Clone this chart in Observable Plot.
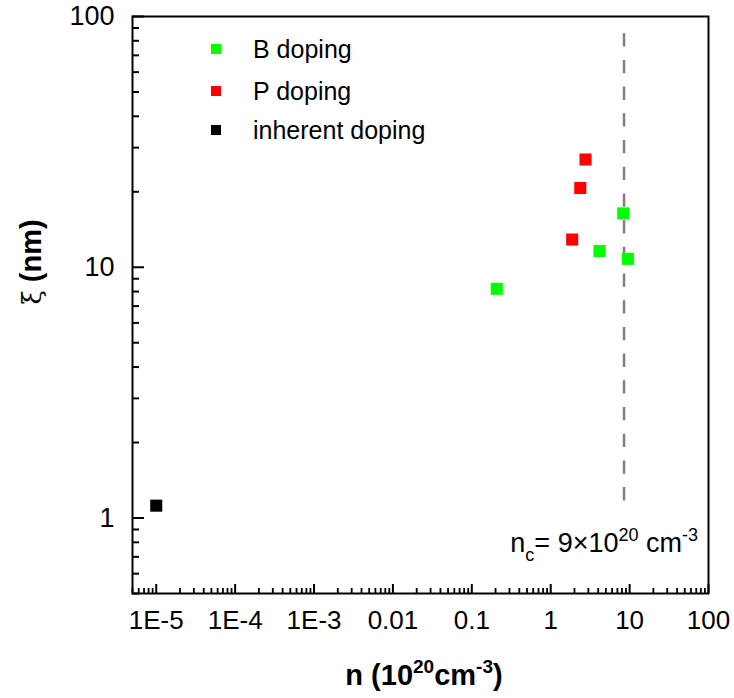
<!DOCTYPE html>
<html><head><meta charset="utf-8">
<script src="https://cdn.jsdelivr.net/npm/d3@7"></script>
<script src="https://cdn.jsdelivr.net/npm/@observablehq/plot@0.6"></script>
<style>
body{margin:0;background:#fff;}
#wrap{position:relative;width:734px;height:698px;}
</style></head><body><div id="wrap"></div>
<script>
// ---- data ----
const seriesNames = ["B doping", "P doping", "inherent doping"];
const seriesColors = ["#00ff00", "#ff0000", "#000000"];
const bN  = [0.207, 4.15, 8.3, 9.5];
const bXi = [8.2, 11.6, 16.4, 10.8];
const pN  = [1.87, 2.37, 2.76];
const pXi = [12.9, 20.7, 26.9];
const iN  = [1e-5];
const iXi = [1.12];
const ncN = [8.5];
const ncXiRange = [1.17, 85.5];
const xTickValues = [1e-5, 1e-4, 1e-3, 0.01, 0.1, 1, 10, 100];
const xTickLabels = ["1E-5", "1E-4", "1E-3", "0.01", "0.1", "1", "10", "100"];
const yTickValues = [1, 10, 100];
const yTickLabels = ["1", "10", "100"];
const xDomain = [5e-6, 100];
const yDomain = [0.5, 100];

// ---- build ----
const points = [];
[[bN, bXi], [pN, pXi], [iN, iXi]].forEach(([ns, xs], s) => {
  ns.forEach((n, i) => points.push({n, xi: xs[i], series: seriesNames[s]}));
});
const minorX = [];
for (let e = -6; e <= 1; e++) for (let m = 2; m <= 9; m++) {
  const v = +(m * Math.pow(10, e)).toPrecision(3);
  if (v >= xDomain[0] && v <= xDomain[1]) minorX.push(v);
}
const minorY = [];
for (let e = -1; e <= 1; e++) for (let m = 2; m <= 9; m++) {
  const v = +(m * Math.pow(10, e)).toPrecision(3);
  if (v >= yDomain[0] && v <= yDomain[1]) minorY.push(v);
}
const ncLine = ncN.map(n => ({n, y1: ncXiRange[0], y2: ncXiRange[1]}));

const FONT = '"Liberation Sans", Arial, sans-serif';
const W = 734, H = 698, mL = 132, mR = 26, mT = 16, mB = 105;

const chart = Plot.plot({
  width: W, height: H,
  marginLeft: mL, marginRight: mR, marginTop: mT, marginBottom: mB,
  style: {fontFamily: FONT, fontSize: "26px", color: "#000", background: "#fff", overflow: "visible"},
  x: {type: "log", domain: xDomain},
  y: {type: "log", domain: yDomain},
  color: {domain: seriesNames, range: seriesColors},
  marks: [
    Plot.ruleX(ncLine, {x: "n", y1: "y1", y2: "y2", stroke: "#808080", strokeWidth: 2.5, strokeDasharray: "13.3,13.4"}),
    Plot.axisX({ticks: minorX, tickSize: -5, fill: "none", strokeWidth: 1.8, label: null}),
    Plot.axisX({ticks: xTickValues, tickSize: -9, fill: "none", strokeWidth: 2, label: null}),
    Plot.axisX({ticks: xTickValues, tickSize: 0, tickPadding: 17, tickFormat: d => xTickLabels[xTickValues.indexOf(d)], label: null, fontSize: 26}),
    Plot.axisY({ticks: minorY, tickSize: -7, fill: "none", strokeWidth: 2, label: null}),
    Plot.axisY({ticks: yTickValues, tickSize: -12, fill: "none", strokeWidth: 2, label: null}),
    Plot.axisY({ticks: yTickValues, tickSize: 0, tickPadding: 18, tickFormat: d => yTickLabels[yTickValues.indexOf(d)], label: null, fontSize: 27}),
    Plot.dot(points, {x: "n", y: "xi", fill: "series", symbol: "square", r: 6.8, stroke: null}),
    Plot.frame({stroke: "#000", strokeWidth: 2})
  ]
});
document.getElementById("wrap").appendChild(chart);

// ---- texts added to the svg ----
const svg = d3.select(chart);
// legend
const legendY = [49, 91, 130];
seriesNames.forEach((name, i) => {
  svg.append("rect").attr("x", 211).attr("y", legendY[i] - 5).attr("width", 10).attr("height", 10).attr("fill", seriesColors[i]);
  svg.append("text").attr("x", 253).attr("y", legendY[i] + 9).attr("text-anchor", "start")
    .attr("font-family", FONT).attr("font-size", 25).attr("fill", "#000").text(name);
});
// x title
const xt = svg.append("text").attr("x", (mL + W - mR) / 2 + 4).attr("y", 685).attr("text-anchor", "middle")
  .attr("font-family", FONT).attr("font-size", 29).attr("font-weight", "bold").attr("fill", "#000");
xt.append("tspan").text("n (10");
xt.append("tspan").attr("dy", -12).attr("font-size", 19).text("20");
xt.append("tspan").attr("dy", 12).text("cm");
xt.append("tspan").attr("dy", -12).attr("font-size", 19).text("-3");
xt.append("tspan").attr("dy", 12).text(")");
// y title
const yt = svg.append("text").attr("transform", "translate(41,262) rotate(-90)").attr("text-anchor", "middle")
  .attr("font-family", FONT).attr("font-size", 29).attr("fill", "#000");
yt.append("tspan").attr("font-family", '"DejaVu Serif", serif').attr("font-size", 26).text("ξ");
yt.append("tspan").attr("font-weight", "bold").text(" (nm)");
// annotation
const an = svg.append("text").attr("x", 698).attr("y", 552).attr("text-anchor", "end")
  .attr("font-family", FONT).attr("font-size", 27).attr("fill", "#000");
an.append("tspan").text("n");
an.append("tspan").attr("dy", 9).attr("font-size", 18).text("c");
an.append("tspan").attr("dy", -9).text("= 9×10");
an.append("tspan").attr("dy", -11).attr("font-size", 18).text("20");
an.append("tspan").attr("dy", 11).text(" cm");
an.append("tspan").attr("dy", -11).attr("font-size", 18).text("-3");
</script>
</body></html>
